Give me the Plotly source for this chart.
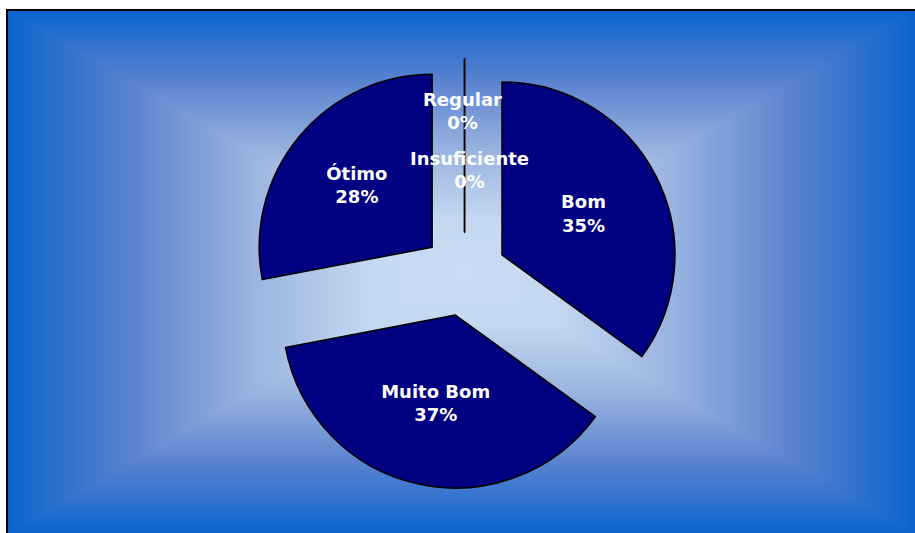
import numpy as np
import plotly.graph_objects as go

# ---- data ----
categories = ["Bom", "Muito Bom", "Ótimo", "Regular", "Insuficiente"]
values = [35, 37, 28, 0, 0]
slice_color = "#000080"

W, H = 915, 533
ML, MT = 7, 10
FONT = dict(family="DejaVu Sans", size=18, color="white", weight="bold")

fig = go.Figure()

# background: rectangular gradient (decoration)
gx = np.linspace(-1, 1, 241)
gy = np.linspace(-1, 1, 161)
XX, YY = np.meshgrid(gx, gy)
ZZ = np.maximum(np.abs(XX), np.abs(YY))
fig.add_trace(go.Heatmap(
    x=gx, y=gy, z=ZZ, zmin=0, zmax=1, zsmooth="best", showscale=False,
    hoverinfo="skip",
    colorscale=[[0, "#cadcf3"], [0.2, "#c4d8f1"], [0.46, "#9ab4e0"],
                [0.73, "#5a82d0"], [1, "#0a64cc"]],
))

textpos = ["inside" if v > 0 else "none" for v in values]
fig.add_trace(go.Pie(
    labels=categories, values=values, sort=False, direction="clockwise",
    rotation=0, pull=0.243,
    marker=dict(colors=[slice_color] * len(values), line=dict(color="black", width=1.5)),
    texttemplate="%{label}<br>%{percent}", textposition=textpos,
    insidetextorientation="horizontal",
    textfont=FONT,
    domain=dict(x=[0.2671, 0.7407], y=[0.0841, 0.9063]),
    showlegend=False, hoverinfo="label+percent",
))

# labels for the zero-value slices
zero_pos = {"Regular": (0.5022, 0.8069), "Insuficiente": (0.5099, 0.6941)}
for lab, val in zip(categories, values):
    if val == 0:
        px, py = zero_pos[lab]
        fig.add_annotation(
            x=px, y=py, xref="paper", yref="paper", showarrow=False,
            xanchor="center", yanchor="middle",
            text=f"{lab}<br>{val}%", font=FONT,
        )

fig.add_shape(type="rect", xref="paper", yref="paper", x0=0, y0=-0.03, x1=1.02, y1=1,
              line=dict(color="black", width=2), layer="above")

fig.update_xaxes(visible=False, range=[-1, 1], fixedrange=True)
fig.update_yaxes(visible=False, range=[-1, 1], fixedrange=True)
fig.update_layout(
    width=W, height=H,
    margin=dict(l=ML, t=MT, r=0, b=0),
    paper_bgcolor="white", plot_bgcolor="white",
)

fig.write_html(
    "out.html",
    config={"displayModeBar": False},
    post_script="document.body.style.margin='0';document.body.style.overflow='hidden';",
)
